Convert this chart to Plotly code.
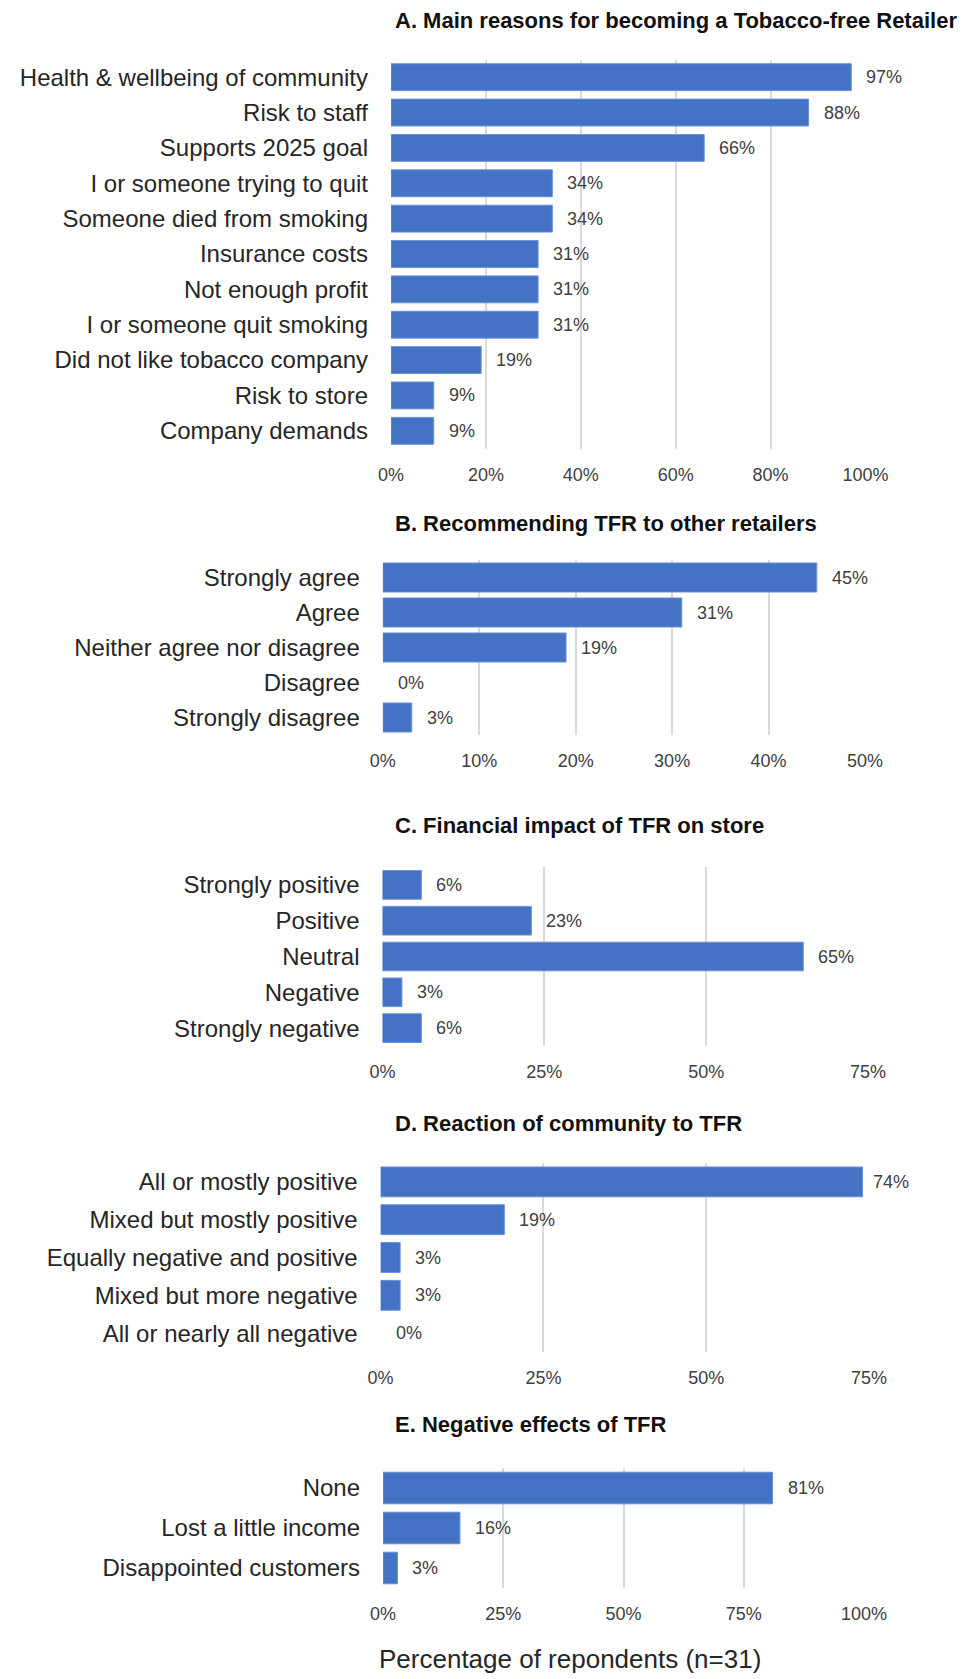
import plotly.graph_objects as go

# ---- survey results (percentage of respondents, n=31) ----
a_title = "A. Main reasons for becoming a Tobacco-free Retailer"
a_cats = ["Health & wellbeing of community", "Risk to staff", "Supports 2025 goal",
          "I or someone trying to quit", "Someone died from smoking", "Insurance costs",
          "Not enough profit", "I or someone quit smoking", "Did not like tobacco company",
          "Risk to store", "Company demands"]
a_vals = [97, 88, 66, 34, 34, 31, 31, 31, 19, 9, 9]

b_title = "B. Recommending TFR to other retailers"
b_cats = ["Strongly agree", "Agree", "Neither agree nor disagree", "Disagree", "Strongly disagree"]
b_vals = [45, 31, 19, 0, 3]

c_title = "C. Financial impact of TFR on store"
c_cats = ["Strongly positive", "Positive", "Neutral", "Negative", "Strongly negative"]
c_vals = [6, 23, 65, 3, 6]

d_title = "D. Reaction of community to TFR"
d_cats = ["All or mostly positive", "Mixed but mostly positive", "Equally negative and positive",
          "Mixed but more negative", "All or nearly all negative"]
d_vals = [74, 19, 3, 3, 0]

e_title = "E. Negative effects of TFR"
e_cats = ["None", "Lost a little income", "Disappointed customers"]
e_vals = [81, 16, 3]

x_label = "Percentage of repondents (n=31)"

# ---- page geometry (pixels) ----
W, H = 967, 1679
FONT = "Liberation Sans, Arial, sans-serif"
BAR = "#4472C4"
GRID = "#D9D9D9"
LABEL_GAP = 13        # space between bar end and its value label
LABEL_LIMIT = 871     # value labels are kept left of this x position

# per panel: title, categories, values, x max, tick step, plot box (x0, x1, y0, y1), bar width, title y
panels = [
    (a_title, a_cats, a_vals, 100, 20, (391, 865.5, 59.5, 448.5), 0.76, 20),
    (b_title, b_cats, b_vals, 50, 10, (382.8, 865, 560, 735), 0.83, 523),
    (c_title, c_cats, c_vals, 75, 25, (382.5, 868, 867, 1046), 0.80, 826),
    (d_title, d_cats, d_vals, 75, 25, (380.6, 869, 1163, 1352), 0.79, 1123),
    (e_title, e_cats, e_vals, 100, 25, (383, 864, 1468, 1588), 0.79, 1424),
]

fig = go.Figure()
annotations = []
layout = {}

for i, (title, cats, vals, xmax, step, box, bw, ty) in enumerate(panels, start=1):
    x0, x1, y0, y1 = box
    xa = "x" if i == 1 else f"x{i}"
    ya = "y" if i == 1 else f"y{i}"
    fig.add_trace(go.Bar(
        x=vals, y=cats, orientation="h", xaxis=xa, yaxis=ya,
        width=bw,
        marker=dict(color=BAR, line=dict(color="#6A90D8",
                                         width=[1 if v > 0 else 0 for v in vals])),
        showlegend=False, hoverinfo="x+y",
    ))
    layout["xaxis" if i == 1 else f"xaxis{i}"] = dict(
        domain=[x0 / W, x1 / W], anchor=ya, range=[0, xmax], automargin=False,
        tickmode="linear", tick0=0, dtick=step, ticksuffix="%",
        showgrid=True, gridcolor=GRID, gridwidth=1.5, zeroline=False,
        showline=False, ticks="", ticklabelstandoff=13,
        tickfont=dict(family=FONT, size=18, color="#404040"),
        fixedrange=True,
    )
    layout["yaxis" if i == 1 else f"yaxis{i}"] = dict(
        domain=[1 - y1 / H, 1 - y0 / H], anchor=xa, type="category", automargin=False,
        categoryorder="array", categoryarray=cats, autorange="reversed",
        showgrid=False, zeroline=False, showline=False, ticks="",
        ticklabelstandoff=22,
        tickfont=dict(family=FONT, size=24, color="#262626"),
        fixedrange=True,
    )
    # panel heading
    annotations.append(dict(
        text=f"<b>{title}</b>", xref="paper", yref="paper",
        x=393 / W, y=1 - ty / H, xanchor="left", yanchor="middle",
        showarrow=False, font=dict(family=FONT, size=22, color="#111111"),
    ))
    # value labels at the end of each bar, pulled in when they would run past the limit
    px_per_unit = (x1 - x0) / xmax
    for cat, v in zip(cats, vals):
        bar_end = x0 + v * px_per_unit
        shift = min(LABEL_GAP, LABEL_LIMIT - bar_end)
        annotations.append(dict(
            text=f"{v}%", x=v, y=cat, xref=xa, yref=ya,
            xanchor="left", yanchor="middle", xshift=shift,
            showarrow=False, font=dict(family=FONT, size=18, color="#404040"),
        ))

# shared axis caption
annotations.append(dict(
    text=x_label, xref="paper", yref="paper", x=570 / W, y=1 - 1659 / H,
    xanchor="center", yanchor="middle", showarrow=False,
    font=dict(family=FONT, size=26, color="#262626"),
))

fig.update_layout(
    width=W, height=H, margin=dict(l=0, r=0, t=0, b=0),
    paper_bgcolor="white", plot_bgcolor="white",
    annotations=annotations, **layout,
)

fig.write_html("out.html", config={"displayModeBar": False})
